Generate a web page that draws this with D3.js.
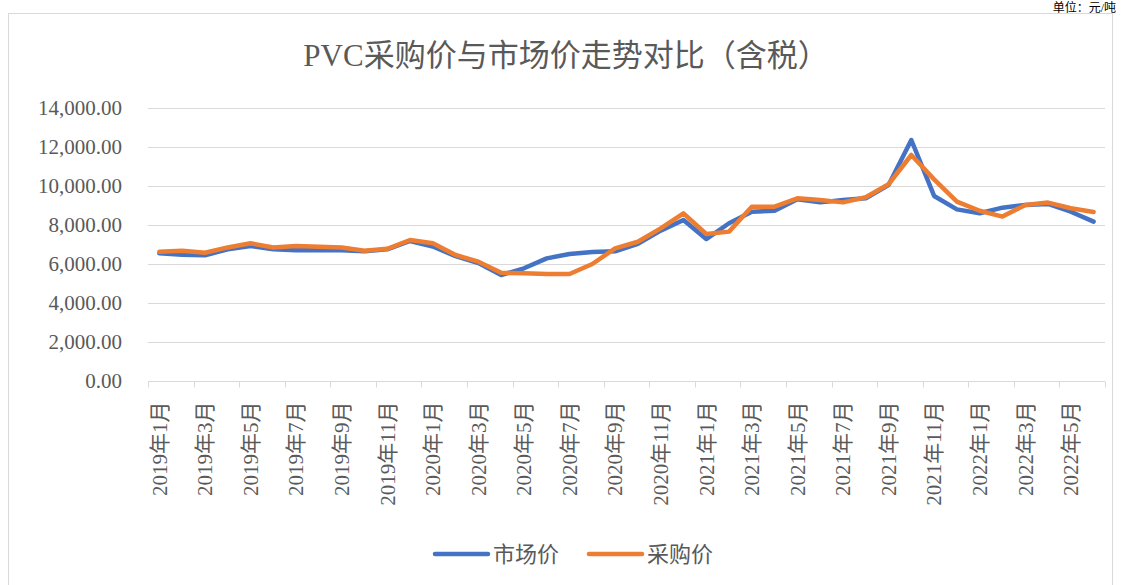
<!DOCTYPE html>
<html>
<head>
<meta charset="utf-8">
<script src="https://cdn.jsdelivr.net/npm/d3@7"></script>
<style>
  body { margin: 0; background: #fff; }
  svg { display: block; }
  .serif { font-family: "Liberation Serif", "Times New Roman", "Noto Sans CJK SC", serif; }
  .grid line { stroke: #d9d9d9; stroke-width: 1; }
  .tick-label { fill: #595959; font-size: 21px; }
  .series { fill: none; stroke-width: 4.5; stroke-linejoin: round; stroke-linecap: round; }
</style>
</head>
<body>
<div id="chart"></div>
<script>
////////////////////////////////////////////////////////////
/////////////////////// Data ///////////////////////////////
////////////////////////////////////////////////////////////

var years = [2019, 2020, 2021, 2022];
var months = [];
years.forEach(function(y) {
	d3.range(1, 13).forEach(function(m) {
		if (y === 2022 && m > 6) return;
		months.push(y + "年" + m + "月");
	});
});

//市场价
var marketPrice = [6550, 6480, 6450, 6750, 6920, 6760, 6700, 6720, 6700, 6650,
	6750, 7180, 6900, 6400, 6050, 5430, 5780, 6290, 6510, 6620,
	6650, 7030, 7710, 8260, 7280, 8090, 8680, 8730, 9320, 9160,
	9280, 9370, 10050, 12360, 9490, 8800, 8600, 8890, 9030, 9080,
	8680, 8170];

//采购价
var purchasePrice = [6630, 6680, 6580, 6850, 7060, 6850, 6920, 6880, 6850, 6680,
	6780, 7230, 7060, 6460, 6120, 5550, 5520, 5490, 5490, 6000,
	6800, 7140, 7830, 8600, 7540, 7660, 8940, 8940, 9370, 9280,
	9160, 9420, 10090, 11590, 10340, 9200, 8730, 8430, 9030, 9150,
	8860, 8670];

var yTicks = [0, 2000, 4000, 6000, 8000, 10000, 12000, 14000];

var series = [
	{name: "市场价", values: marketPrice, color: "#4472c4"},
	{name: "采购价", values: purchasePrice, color: "#ed7d31"}
];

////////////////////////////////////////////////////////////
/////////////////////// Set-up /////////////////////////////
////////////////////////////////////////////////////////////

var width = 1122, height = 585;
var margin = {top: 108, right: 17, bottom: 204, left: 148};

var svg = d3.select("#chart").append("svg")
	.attr("width", width)
	.attr("height", height);

//Chart frame
svg.append("rect")
	.attr("x", 8.5).attr("y", 13.5)
	.attr("width", 1104).attr("height", 600)
	.style("fill", "none")
	.style("stroke", "#d9d9d9")
	.style("stroke-width", 1);

//Unit text, sits above the frame at the top right
svg.append("text")
	.attr("class", "serif")
	.attr("x", 1116)
	.attr("y", 12)
	.attr("text-anchor", "end")
	.style("font-size", "12px")
	.style("fill", "#000")
	.text("单位：元/吨");

//Title
svg.append("text")
	.attr("class", "serif")
	.attr("x", 566)
	.attr("y", 66)
	.attr("text-anchor", "middle")
	.style("font-size", "31px")
	.style("fill", "#595959")
	.text("PVC采购价与市场价走势对比（含税）");

var x = d3.scaleBand()
	.domain(months)
	.range([margin.left, width - margin.right]);

var y = d3.scaleLinear()
	.domain([0, 14000])
	.range([height - margin.bottom, margin.top]);

////////////////////////////////////////////////////////////
/////////////////////// Axes ///////////////////////////////
////////////////////////////////////////////////////////////

//Gridlines
svg.append("g")
	.attr("class", "grid")
	.selectAll("line")
	.data(yTicks.slice(1))
	.enter().append("line")
	.attr("x1", margin.left)
	.attr("x2", width - margin.right)
	.attr("y1", function(d) { return Math.round(y(d)) + 0.5; })
	.attr("y2", function(d) { return Math.round(y(d)) + 0.5; });

//Y labels
svg.append("g")
	.selectAll("text")
	.data(yTicks)
	.enter().append("text")
	.attr("class", "serif tick-label")
	.attr("x", 122)
	.attr("y", function(d) { return y(d); })
	.attr("dy", "0.35em")
	.attr("text-anchor", "end")
	.text(d3.format(",.2f"));

//X axis with tick marks every second month
var xAxis = d3.axisBottom(x)
	.tickValues(months.filter(function(d, i) { return i % 2 === 0; }))
	.tickSize(0)
	.tickPadding(0);

var xg = svg.append("g")
	.attr("transform", "translate(0," + (Math.round(y(0)) + 0.5) + ")")
	.call(xAxis);
xg.select(".domain").remove();

xg.append("line")
	.attr("x1", margin.left)
	.attr("x2", width - margin.right)
	.style("stroke", "#d9d9d9");

var tickPos = d3.range(0, months.length + 1, 2).map(function(i) {
	return margin.left + i * x.step();
});
xg.selectAll(".tick-mark")
	.data(tickPos)
	.enter().append("line")
	.attr("class", "tick-mark")
	.attr("x1", function(d) { return Math.round(d) + 0.5; })
	.attr("x2", function(d) { return Math.round(d) + 0.5; })
	.attr("y2", 6)
	.style("stroke", "#d9d9d9");

xg.selectAll(".tick text")
	.attr("class", "serif tick-label")
	.attr("font-size", null)
	.attr("font-family", null)
	.attr("transform", "rotate(-90)")
	.attr("x", -20)
	.attr("y", 0)
	.attr("dy", "0.35em")
	.attr("text-anchor", "end");

////////////////////////////////////////////////////////////
/////////////////////// Lines //////////////////////////////
////////////////////////////////////////////////////////////

var line = d3.line()
	.x(function(d, i) { return x(months[i]) + x.bandwidth() / 2; })
	.y(function(d) { return y(d); });

svg.selectAll(".series")
	.data(series)
	.enter().append("path")
	.attr("class", "series")
	.style("stroke", function(d) { return d.color; })
	.attr("d", function(d) { return line(d.values); });

////////////////////////////////////////////////////////////
/////////////////////// Legend /////////////////////////////
////////////////////////////////////////////////////////////

var legend = svg.selectAll(".legend")
	.data(series)
	.enter().append("g")
	.attr("class", "legend")
	.attr("transform", function(d, i) { return "translate(" + (435 + i * 154) + ",554)"; });

legend.append("line")
	.attr("x1", 0).attr("x2", 53)
	.style("stroke", function(d) { return d.color; })
	.style("stroke-width", 4.5)
	.style("stroke-linecap", "round");

legend.append("text")
	.attr("x", 58)
	.attr("dy", "0.35em")
	.style("font-family", "'Noto Sans CJK SC', sans-serif")
	.style("font-size", "22px")
	.style("fill", "#595959")
	.text(function(d) { return d.name; });
</script>
</body>
</html>
